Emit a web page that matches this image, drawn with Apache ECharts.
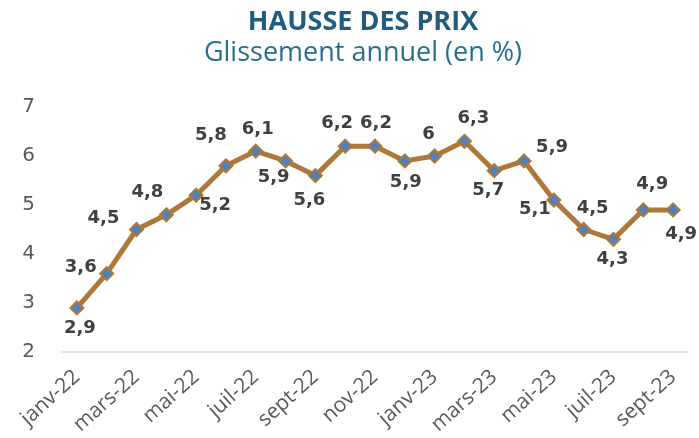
<!DOCTYPE html>
<html lang="fr">
<head>
    <meta charset="UTF-8">
    <title>Hausse des prix</title>
    <style>
        * { margin: 0; padding: 0; }
        body { background: #fff; }
    </style>
    <script src="https://cdn.jsdelivr.net/npm/echarts@6/dist/echarts.min.js"></script>
</head>
<body>
    <div id="chart" style="width: 699px; height: 438px;"></div>
    <script>
        // mois (janv-22 .. sept-23)
        var months = ['janv-22', 'févr-22', 'mars-22', 'avr-22', 'mai-22', 'juin-22', 'juil-22', 'août-22',
            'sept-22', 'oct-22', 'nov-22', 'déc-22', 'janv-23', 'févr-23', 'mars-23', 'avr-23',
            'mai-23', 'juin-23', 'juil-23', 'août-23', 'sept-23'];
        // glissement annuel en %
        var inflation = [2.9, 3.6, 4.5, 4.8, 5.2, 5.8, 6.1, 5.9, 5.6, 6.2, 6.2, 5.9, 6, 6.3, 5.7, 5.9, 5.1, 4.5, 4.3, 4.9, 4.9];
        var yTicks = [2, 3, 4, 5, 6, 7];

        // décalage des étiquettes (comme dans le graphique excel)
        var labelShift = [[3, 20], [-26, -6], [-33, -11], [-19, -22], [19, 10], [-15, -30], [2, -22], [-12, 16],
            [-6, 25], [-8, -23], [1, -23], [1, 21], [-6, -22], [9, -23], [-6, 20], [28, -14],
            [-19, 9], [9, -21], [-1, 20], [9, -26], [8, 24]];

        var chart = echarts.init(document.getElementById('chart'));

        var points = inflation.map(function (v, i) {
            return {
                value: v,
                label: { offset: labelShift[i] }
            };
        });

        var option = {
            animation: false,
            title: {
                text: 'HAUSSE DES PRIX',
                subtext: 'Glissement annuel (en %)',
                left: 358,
                textAlign: 'center',
                top: 4,
                itemGap: 4,
                textStyle: {
                    fontFamily: 'Open Sans',
                    fontWeight: 'bold',
                    fontSize: 27,
                    color: '#1F5C7E'
                },
                subtextStyle: {
                    fontFamily: 'Open Sans',
                    fontSize: 27,
                    color: '#2A6E8E'
                }
            },
            grid: {
                left: 62,
                right: 11,
                top: 107,
                bottom: 86
            },
            xAxis: {
                type: 'category',
                data: months,
                boundaryGap: true,
                axisLine: { lineStyle: { color: '#D9D9D9', width: 1.5 } },
                axisTick: { show: false },
                axisLabel: {
                    interval: 1,
                    rotate: 42,
                    margin: 22,
                    fontFamily: 'Open Sans',
                    fontSize: 21,
                    color: '#595959'
                }
            },
            yAxis: {
                type: 'value',
                min: yTicks[0],
                max: yTicks[yTicks.length - 1],
                interval: 1,
                splitLine: { show: false },
                axisLine: { show: false },
                axisTick: { show: false },
                axisLabel: {
                    margin: 27,
                    fontFamily: 'DejaVu Sans',
                    fontSize: 20,
                    color: '#595959'
                }
            },
            series: [{
                type: 'line',
                data: points,
                symbol: 'diamond',
                symbolSize: 13,
                itemStyle: {
                    color: '#4F81BD',
                    borderColor: '#AD7838',
                    borderWidth: 2
                },
                lineStyle: {
                    color: '#AD7838',
                    width: 5
                },
                label: {
                    show: true,
                    position: 'inside',
                    fontFamily: 'DejaVu Sans',
                    fontWeight: 'bold',
                    fontSize: 18,
                    color: '#404040',
                    formatter: function (p) {
                        return String(p.value).replace('.', ',');
                    }
                }
            }]
        };
        chart.setOption(option);
    </script>
</body>
</html>
